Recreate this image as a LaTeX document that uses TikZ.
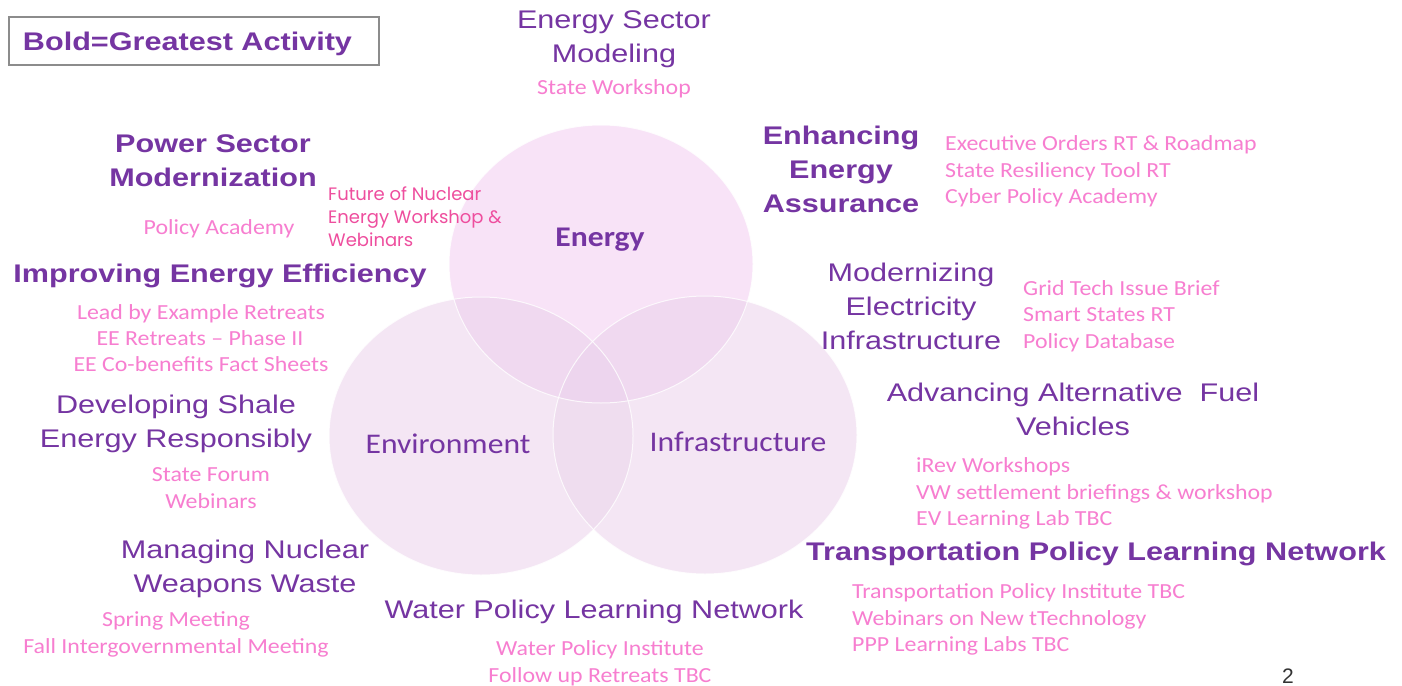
\documentclass[tikz,border=0pt]{standalone}
\usepackage{fontspec}
\newfontfamily\hf[FakeStretch=1.2]{Liberation Sans}
\newfontfamily\cf[FakeStretch=1.11]{Carlito}
\newfontfamily\pf{Poppins}
\definecolor{vpurple}{HTML}{7535A2}
\definecolor{vpink}{HTML}{F77ED0}
\definecolor{vpinkB}{HTML}{EE4E9E}
\definecolor{cEn}{HTML}{F8E3F7}
\definecolor{cBase}{HTML}{F4E6F4}
\definecolor{cEnX}{HTML}{F0D9F0}
\definecolor{cEI}{HTML}{EFDDEF}
\definecolor{cAll}{HTML}{EDD5EE}
\tikzset{
  head/.style={font=\hf\fontsize{25.5}{30}\selectfont, text=vpurple, inner sep=0pt, anchor=mid, yshift=-6pt},
  headb/.style={font=\hf\bfseries\fontsize{25.5}{30}\selectfont, text=vpurple, inner sep=0pt, anchor=mid, yshift=-6pt},
  item/.style={font=\cf\fontsize{21.5}{26}\selectfont, text=vpink, inner sep=0pt, anchor=mid, yshift=-6pt},
  itemL/.style={item, anchor=mid west},
  futtext/.style={font=\pf\fontsize{18}{23}\selectfont, text=vpinkB, inner sep=0pt, anchor=mid west, yshift=-5pt},
  clabel/.style={font=\cf\fontsize{28.5}{32}\selectfont, text=vpurple, inner sep=0pt, anchor=mid, yshift=-7pt},
  venn/.style={draw=white, line width=1pt, draw opacity=0.8},
}
\begin{document}
\begin{tikzpicture}[x=1pt,y=-1pt]
\useasboundingbox (0,0) rectangle (1402,685);
\fill[white] (0,0) rectangle (1402,685);
% Venn diagram
\def\EnP{(601,264) ellipse [x radius=152pt, y radius=139pt]}
\def\EvP{(481,436) ellipse [x radius=152pt, y radius=139pt]}
\def\InP{(705,435) ellipse [x radius=152pt, y radius=139pt]}
\fill[cBase] \EvP;
\fill[cBase] \InP;
\fill[cEn] \EnP;
\begin{scope}
  \clip \EnP;
  \fill[cEnX] \EvP;
  \fill[cEnX] \InP;
\end{scope}
\begin{scope}
  \clip \EvP;
  \fill[cEI] \InP;
  \clip \EnP;
  \fill[cAll] \InP;
\end{scope}
\draw[venn] \EnP;
\draw[venn] \EvP;
\draw[venn] \InP;
\node[clabel, font=\cf\bfseries\fontsize{28.5}{32}\selectfont] (lblEnergy) at (600,237) {Energy};
\node[clabel] (lblEnv) at (448,444) {Environment};
\node[clabel] (lblInf) at (738,442) {Infrastructure};
% legend
\node[draw=gray!90, line width=2pt, minimum height=48pt, text width=342pt, inner xsep=14pt, align=left,
  text depth=0pt, font=\hf\bfseries\fontsize{25.5}{30}\selectfont, text=vpurple] (legend) at (194,41) {Bold=Greatest Activity};
% Energy Sector Modeling
\node[head] (esm1) at (614,20) {Energy Sector};
\node[head] (esm2) at (614,54) {Modeling};
\node[item] (esmA) at (614,86) {State Workshop};
% Power Sector Modernization
\node[headb] (psm1) at (213,144) {Power Sector};
\node[headb] (psm2) at (213,178) {Modernization};
\node[item] (psmA) at (219,226) {Policy Academy};
\node[futtext] (fut1) at (328,193) {Future of Nuclear};
\node[futtext] (fut2) at (328,216) {Energy Workshop \&};
\node[futtext] (fut3) at (328,239) {Webinars};
% Enhancing Energy Assurance
\node[headb] (eea1) at (841,136) {Enhancing};
\node[headb] (eea2) at (841,170) {Energy};
\node[headb] (eea3) at (841,204) {Assurance};
\node[itemL] (eeaA) at (945,142) {Executive Orders RT \& Roadmap};
\node[itemL] (eeaB) at (945,169) {State Resiliency Tool RT};
\node[itemL] (eeaC) at (945,195) {Cyber Policy Academy};
% Improving Energy Efficiency
\node[headb] (iee) at (220,274) {Improving Energy Efficiency};
\node[item] (ieeA) at (201,311) {Lead by Example Retreats};
\node[item] (ieeB) at (200,337) {EE Retreats – Phase II};
\node[item] (ieeC) at (201,363) {EE Co-benefits Fact Sheets};
% Modernizing Electricity Infrastructure
\node[head] (mei1) at (911,273) {Modernizing};
\node[head] (mei2) at (911,307) {Electricity};
\node[head] (mei3) at (911,341) {Infrastructure};
\node[itemL] (meiA) at (1023,287) {Grid Tech Issue Brief};
\node[itemL] (meiB) at (1023,313) {Smart States RT};
\node[itemL] (meiC) at (1023,340) {Policy Database};
% Developing Shale
\node[head] (dse1) at (176,405) {Developing Shale};
\node[head] (dse2) at (176,439) {Energy Responsibly};
\node[item] (dseA) at (211,473) {State Forum};
\node[item] (dseB) at (211,500) {Webinars};
% Advancing Alternative Fuel Vehicles
\node[head] (aaf1) at (1073,393) {Advancing Alternative\ \ Fuel};
\node[head] (aaf2) at (1073,427) {Vehicles};
\node[itemL] (aafA) at (916,464) {iRev Workshops};
\node[itemL] (aafB) at (916,491) {VW settlement briefings \& workshop};
\node[itemL] (aafC) at (916,517) {EV Learning Lab TBC};
% Transportation Policy Learning Network
\node[headb] (tpl) at (1096,552) {Transportation Policy Learning Network};
\node[itemL] (tplA) at (852,590) {Transportation Policy Institute TBC};
\node[itemL] (tplB) at (852,617) {Webinars on New tTechnology};
\node[itemL] (tplC) at (852,643) {PPP Learning Labs TBC};
% Managing Nuclear Weapons Waste
\node[head] (mnw1) at (245,550) {Managing Nuclear};
\node[head] (mnw2) at (245,584) {Weapons Waste};
\node[item] (mnwA) at (176,618) {Spring Meeting};
\node[item] (mnwB) at (176,645) {Fall Intergovernmental Meeting};
% Water Policy Learning Network
\node[head] (wpl) at (594,610) {Water Policy Learning Network};
\node[item] (wplA) at (600,647) {Water Policy Institute};
\node[item] (wplB) at (600,674) {Follow up Retreats TBC};
% page number
\node[font=\fontspec{Liberation Sans}\fontsize{21}{24}\selectfont, text=black!80, inner sep=0pt, anchor=base] (pagenum) at (1288,683) {2};
\end{tikzpicture}
\end{document}
